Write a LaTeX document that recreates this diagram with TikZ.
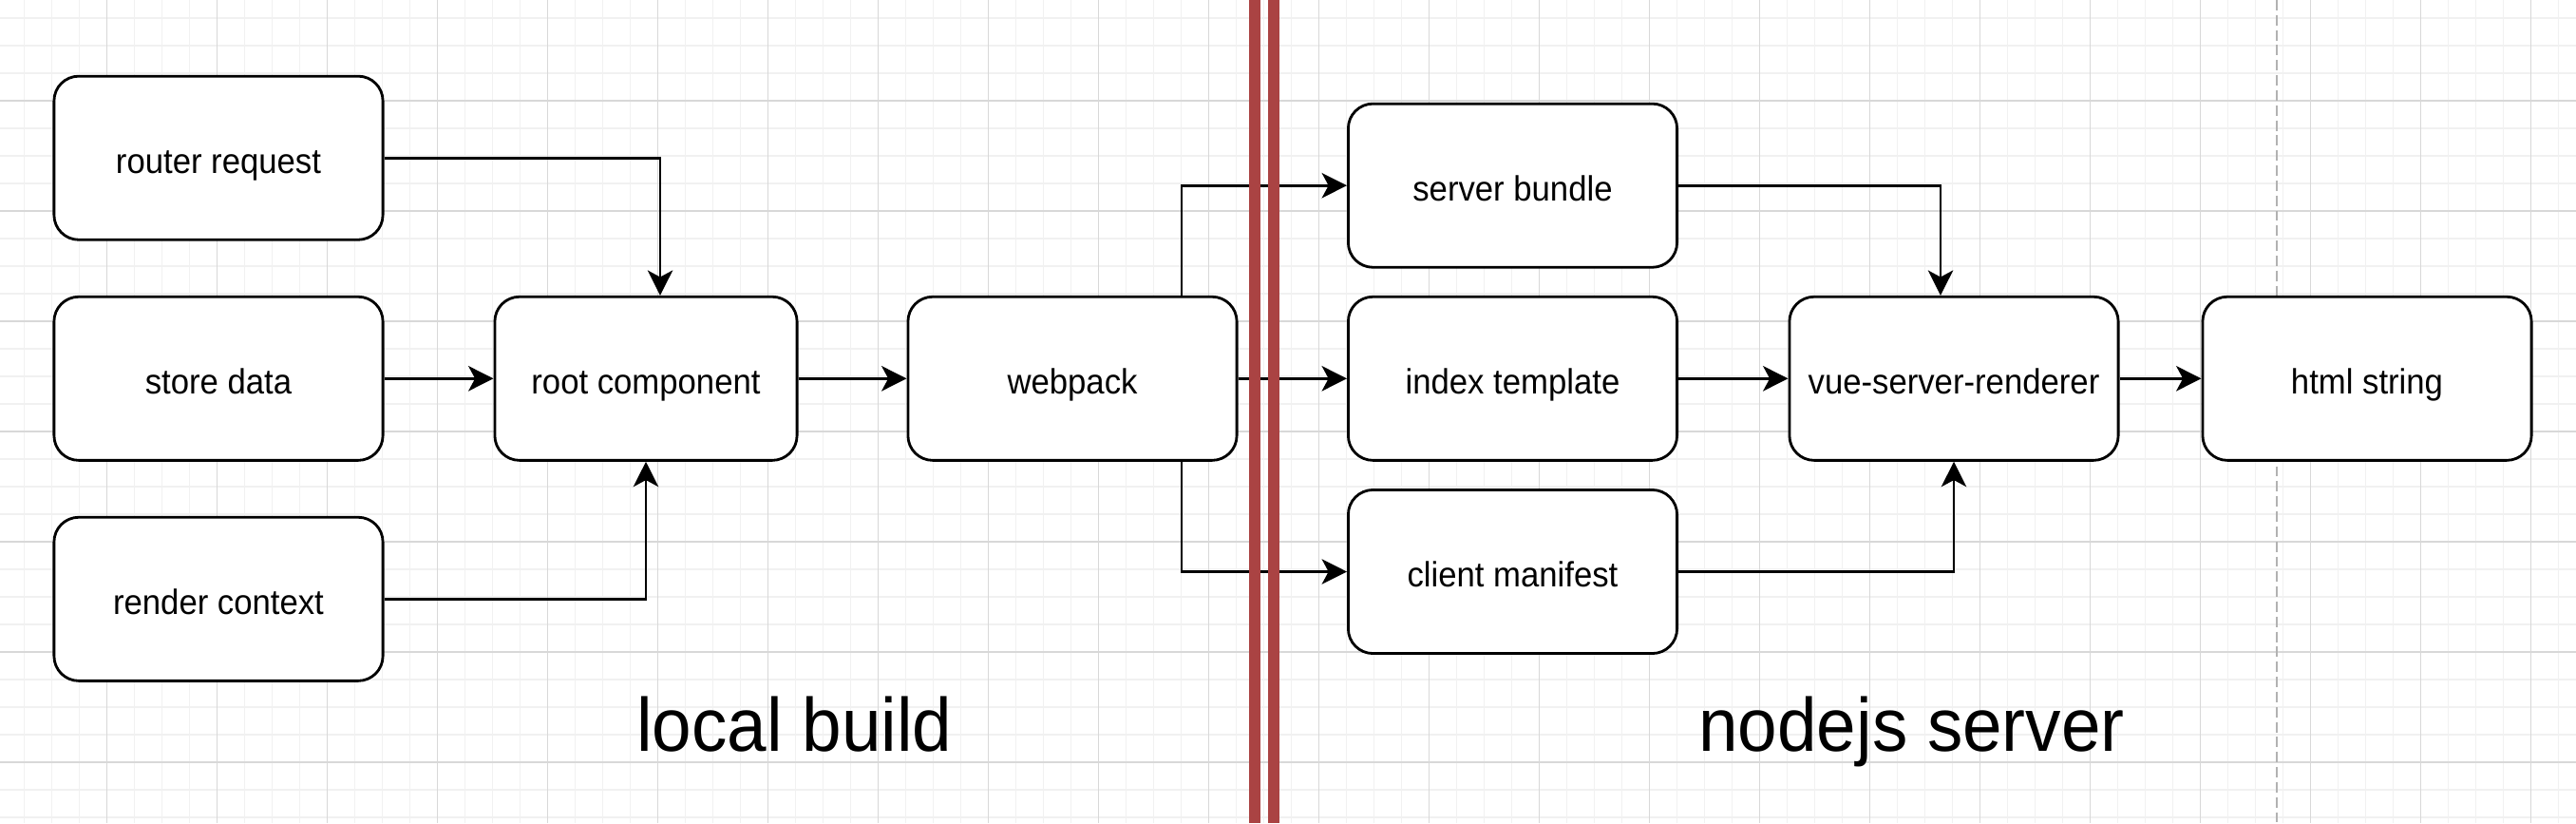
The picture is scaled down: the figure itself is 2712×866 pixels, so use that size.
\documentclass[tikz,border=0pt]{standalone}
\usepackage{fontspec}
\newfontfamily\boxfont[FakeStretch=0.94]{Liberation Sans}
\usetikzlibrary{arrows.meta}
\definecolor{gridmaj}{RGB}{216,216,216}
\definecolor{gridmin}{RGB}{241,241,241}
\definecolor{splitred}{RGB}{170,67,67}
\definecolor{dashgray}{RGB}{178,178,178}

\begin{document}
\begin{tikzpicture}[x=0.01cm, y=-0.01cm,
        box/.style={draw, line width=0.8pt, fill=white, rounded corners=0.26cm,
            minimum width=3.46cm, minimum height=1.72cm, inner sep=0pt,
            font=\boxfont\fontsize{10.5}{12}\selectfont, text height=10pt, text depth=1pt},
        flow/.style={line width=0.75pt, -{Stealth[length=7.5pt, width=7.5pt, inset=2pt]}},
        region/.style={font=\boxfont\fontsize{22.6}{27}\selectfont, anchor=base}]
                \useasboundingbox (0,0) rectangle (2712,866);
                \fill[white] (0,0) rectangle (2712,866);
                
                % background grid
                \foreach \i in {1,...,93} {
                    \draw[gridmin, line width=0.3pt] (-3.7+29*\i,0) -- (-3.7+29*\i,866);
                }
                \foreach \j in {1,...,30} {
                    \draw[gridmin, line width=0.3pt] (0,-10+29*\j) -- (2712,-10+29*\j);
                }
                \foreach \i in {1,...,23} {
                    \draw[gridmaj, line width=0.3pt] (-3.7+116*\i,0) -- (-3.7+116*\i,866);
                }
                \foreach \j in {1,...,7} {
                    \draw[gridmaj, line width=0.3pt] (0,-10+116*\j) -- (2712,-10+116*\j);
                }
                \draw[dashgray, line width=0.5pt, dash pattern=on 3.1pt off 1.4pt] (2396.7,0) -- (2396.7,866);
                
                % local build
                \node[box] (rreq) at (230,166.2) {router request};
                \node[box] (sdata) at (230,398.3) {store data};
                \node[box] (rctx) at (230,630.3) {render context};
                \node[box, minimum width=3.18cm] (root) at (680,398.3) {root component};
                \node[box] (wpack) at (1129,398.3) {webpack};
                
                % nodejs server
                \node[box] (sbundle) at (1592.5,195.2) {server bundle};
                \node[box] (itmpl) at (1592.5,398.3) {index template};
                \node[box] (cmani) at (1592.5,601.5) {client manifest};
                \node[box] (vsr) at (2057,398.3) {vue-server-renderer};
                \node[box] (html) at (2492,398.3) {html string};
                
                \draw[flow] (rreq.east) -| ([xshift=0.15cm]root.north);
                \draw[flow] (sdata.east) -- (root.west);
                \draw[flow] (rctx.east) -| (root.south);
                \draw[flow] (root.east) -- (wpack.west);
                \draw[flow] ([xshift=1.15cm]wpack.north) |- (sbundle.west);
                \draw[flow] (wpack.east) -- (itmpl.west);
                \draw[flow] ([xshift=1.15cm]wpack.south) |- (cmani.west);
                \draw[flow] (sbundle.east) -| ([xshift=-0.14cm]vsr.north);
                \draw[flow] (itmpl.east) -- (vsr.west);
                \draw[flow] (cmani.east) -| (vsr.south);
                \draw[flow] (vsr.east) -- (html.west);
                
                % split between the two sides
                \foreach \x in {1320.8, 1341.2} {
                    \draw[splitred, line width=3.33pt] (\x,0) -- (\x,866);
                }
                
                \node[region] (lbuild) at (836.5,790) {local build};
                \node[region] (nserver) at (2012.5,790) {nodejs server};
            \end{tikzpicture}
\end{document}
